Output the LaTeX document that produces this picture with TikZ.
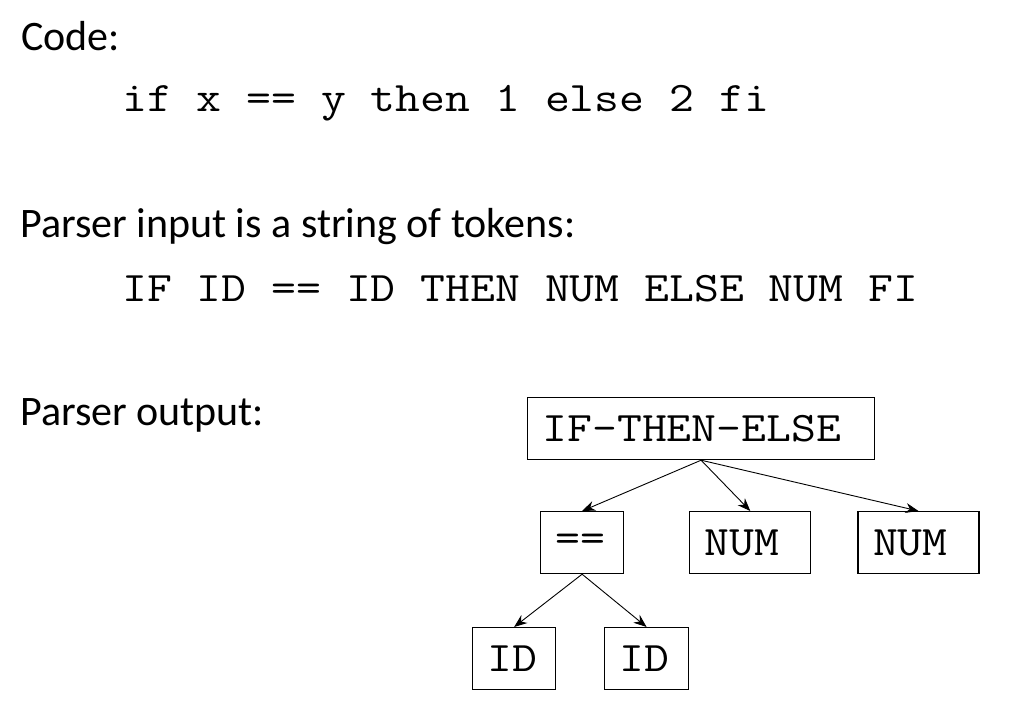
\documentclass[tikz,border=0pt]{standalone}
\usepackage{fontspec}
\setmainfont{Carlito}
\setmonofont[FakeStretch=1.15]{Latin Modern Mono}
\usetikzlibrary{arrows.meta, positioning}

\begin{document}
\begin{tikzpicture}[x=1pt, y=1pt, >={Stealth[length=13pt, width=10pt]},
  heading/.style={anchor=base west, inner sep=0pt, font=\fontsize{42}{50}\selectfont},
  tokens/.style={anchor=base west, inner sep=0pt, font=\fontsize{42}{50}\ttfamily},
  tbox/.style={draw, line width=1.2pt, anchor=north west, inner xsep=15pt, inner ysep=0pt,
    minimum height=62pt, align=left, font=\fontsize{42}{50}\ttfamily},
  link/.style={->, line width=0.9pt}]
  \useasboundingbox (0,0) rectangle (1030,-720);
  % headings and token strings
  \node[heading] (code) at (21,-50) {Code:};
  \node[tokens] (src) at (122,-111) {if x == y then 1 else 2 fi};
  \node[heading] (input) at (20,-237) {Parser input is a string of tokens:};
  \node[tokens] (toks) at (122,-301) {IF ID == ID THEN NUM ELSE NUM FI};
  \node[heading] (output) at (20,-425) {Parser output:};
  % parse tree
  \node[tbox, text width=317pt] (ite) at (527,-397) {IF-THEN-ELSE};
  \node[tbox, text width=53pt] (eq) at (540,-511) {==};
  \node[tbox, text width=91pt, right=65pt of eq.north east, anchor=north west] (num1) {NUM};
  \node[tbox, text width=91pt, right=46pt of num1.north east, anchor=north west] (num2) {NUM};
  \node[tbox, text width=53pt] (id1) at (472,-627) {ID};
  \node[tbox, text width=54pt] (id2) at (604,-627) {ID};
  \draw[link] (ite.south) -- (eq.north);
  \draw[link] (ite.south) -- (num1.north);
  \draw[link] (ite.south) -- (num2.north);
  \draw[link] (eq.south) -- (id1.north);
  \draw[link] (eq.south) -- (id2.north);
\end{tikzpicture}
\end{document}
